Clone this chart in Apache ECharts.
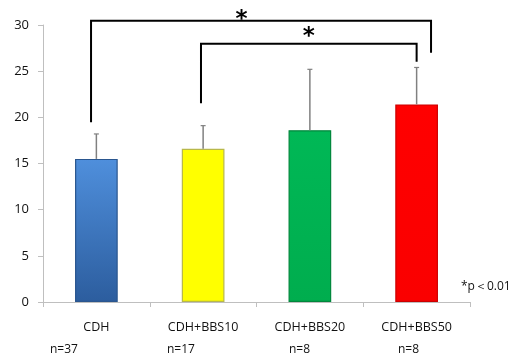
<!DOCTYPE html>
<html><head><meta charset="utf-8">
<script src="https://cdn.jsdelivr.net/npm/echarts@6/dist/echarts.min.js"></script>
<style>html,body{margin:0;padding:0;background:#fff}#c{width:513px;height:356px}</style>
</head><body><div id="c"></div>
<script>
var categories = ['CDH', 'CDH+BBS10', 'CDH+BBS20', 'CDH+BBS50'];
var means = [15.5, 16.6, 18.6, 21.4];
var upperErr = [18.2, 19.1, 25.2, 25.4];
var nLabels = ['n=37', 'n=17', 'n=8', 'n=8'];
var nLabelX = [50, 167, 289, 398];
var yTicks = [0, 5, 10, 15, 20, 25, 30];
// brackets: [xLeft, xRight, yLeftLeg, yRightLeg, yTop] in category-band units (0..4) and value units
var brackets = [[0.45, 3.635, 19.46, 27.0, 30.47], [1.48, 3.50, 21.52, 26.03, 27.97]];
var stars = [[1.86, 31.0], [2.49, 29.15]];
var sigNote = '*p＜0.01';

var barColors = [
  {top: '#4f8fdc', bottom: '#2c5d9e', border: '#2a568f'},
  {top: '#ffff00', bottom: '#ffff00', border: '#b8b84a'},
  {top: '#00b856', bottom: '#00ad4e', border: '#00873c'},
  {top: '#ff0000', bottom: '#fa0000', border: '#cc0000'}
];

var chart = echarts.init(document.getElementById('c'), null, {renderer: 'canvas'});
var font = '"Open Sans", "Noto Sans", sans-serif';

var option = {
  animation: false,
  grid: {left: 43, right: 43, top: 25, bottom: 54, containLabel: false},
  xAxis: [{
    type: 'category', data: categories,
    axisLine: {lineStyle: {color: '#bfbfbf', width: 1}},
    axisTick: {show: true, length: 5, lineStyle: {color: '#bfbfbf'}},
    axisLabel: {color: '#111', fontSize: 12.5, fontFamily: font, margin: 19}
  }, {
    type: 'value', min: 0, max: 4, show: false
  }],
  yAxis: {
    type: 'value', min: 0, max: 30, interval: 5,
    axisLine: {show: true, lineStyle: {color: '#bfbfbf', width: 1}},
    axisTick: {show: true, length: 5, lineStyle: {color: '#bfbfbf'}},
    splitLine: {show: false},
    axisLabel: {color: '#111', fontSize: 13, fontFamily: font, margin: 14,
      formatter: function (v) { return yTicks.indexOf(v) >= 0 ? String(v) : ''; }}
  },
  series: [{
    type: 'bar', barWidth: '40%', xAxisIndex: 0,
    data: means.map(function (v, i) {
      var c = barColors[i];
      return {value: v, itemStyle: {
        color: new echarts.graphic.LinearGradient(0, 0, 0, 1, [{offset: 0, color: c.top}, {offset: 1, color: c.bottom}]),
        borderColor: c.border, borderWidth: 1.2}};
    })
  }, {
    type: 'custom', xAxisIndex: 0, z: 3,
    data: means.map(function (v, i) { return [i, v, upperErr[i]]; }),
    renderItem: function (params, api) {
      var p0 = api.coord([api.value(0), api.value(1)]);
      var p1 = api.coord([api.value(0), api.value(2)]);
      return {type: 'group', children: [
        {type: 'line', shape: {x1: p0[0], y1: p0[1], x2: p1[0], y2: p1[1]}, style: {stroke: '#808080', lineWidth: 1.5}},
        {type: 'line', shape: {x1: p1[0] - 2.5, y1: p1[1], x2: p1[0] + 2.5, y2: p1[1]}, style: {stroke: '#808080', lineWidth: 1.2}}
      ]};
    }
  }, {
    type: 'custom', xAxisIndex: 1, z: 4, clip: false,
    data: brackets,
    renderItem: function (params, api) {
      var a = api.coord([api.value(0), api.value(2)]);
      var b = api.coord([api.value(0), api.value(4)]);
      var c = api.coord([api.value(1), api.value(4)]);
      var d = api.coord([api.value(1), api.value(3)]);
      return {type: 'polyline', shape: {points: [a, b, c, d]}, style: {stroke: '#000', lineWidth: 2, fill: null}};
    }
  }, {
    type: 'custom', xAxisIndex: 1, z: 5, clip: false,
    data: stars,
    renderItem: function (params, api) {
      var p = api.coord([api.value(0), api.value(1)]);
      return {type: 'text', x: p[0], y: p[1] + 4, style: {text: '*', fill: '#000', font: 'bold 23px "DejaVu Sans", sans-serif', align: 'center', verticalAlign: 'middle'}};
    }
  }],
  graphic: nLabels.map(function (t, i) {
    return {type: 'text', left: nLabelX[i], top: 344, style: {text: t, fill: '#111', font: '12px ' + font}};
  }).concat([{type: 'text', left: 461, top: 281, style: {text: sigNote, fill: '#111', font: '12px ' + font}}])
};
chart.setOption(option);
</script></body></html>
